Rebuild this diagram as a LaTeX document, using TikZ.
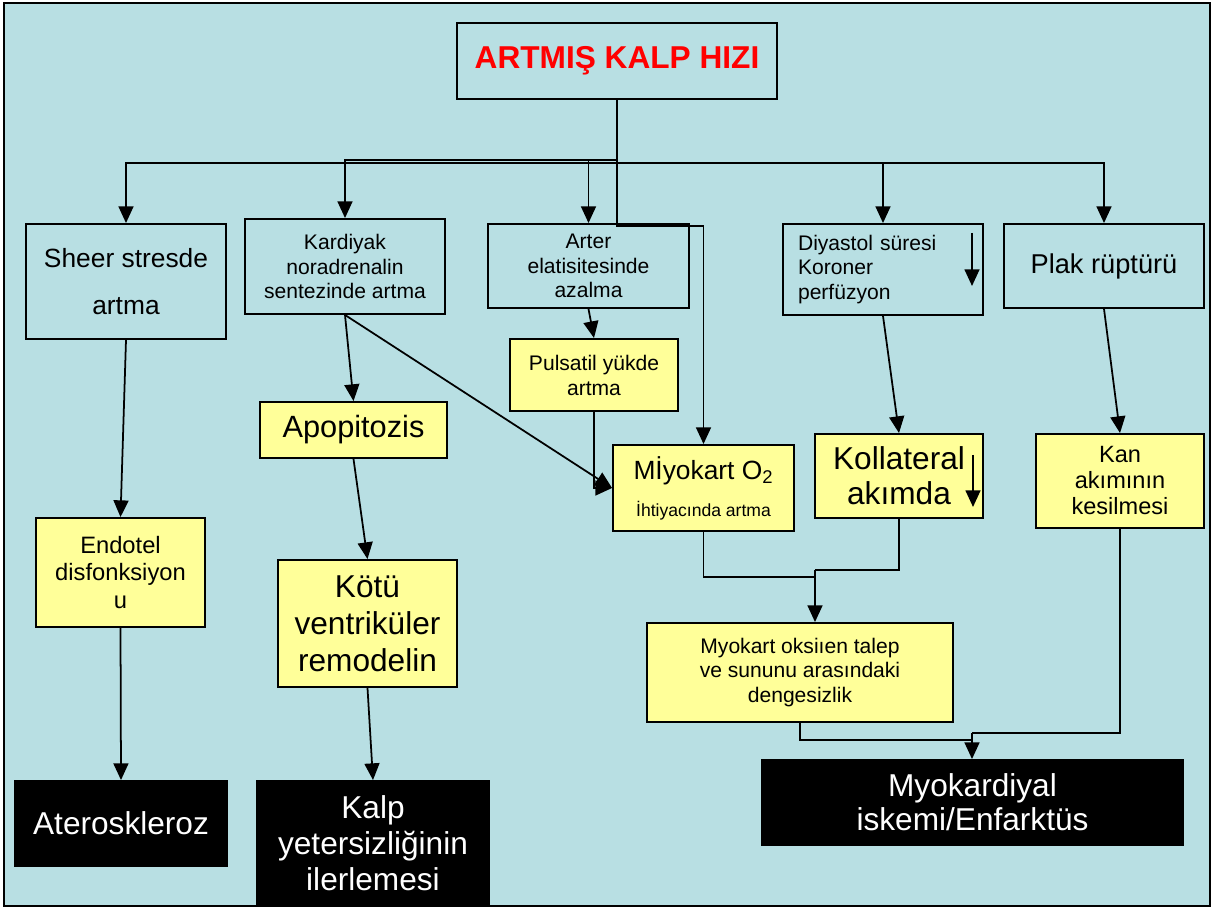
\documentclass[tikz,border=0pt]{standalone}
\usepackage{fontspec}
\setmainfont{Liberation Sans}
\usetikzlibrary{arrows.meta}
\definecolor{panelbg}{RGB}{184,223,227}
\definecolor{notefill}{RGB}{255,255,153}
\newcommand{\fs}[2]{\fontsize{#1}{#2}\selectfont}
\tikzset{
	box/.style={draw=black, line width=1.1pt, align=center, inner sep=2pt},
	bluebox/.style={box, fill=panelbg},
	yellowbox/.style={box, fill=notefill},
	blackbox/.style={box, fill=black, text=white},
	link/.style={line width=1pt},
	arr/.style={link, -{Triangle[length=9.5pt,width=8.5pt]}}
}

\begin{document}
\begin{tikzpicture}[x=0.02cm, y=-0.02cm]
	\useasboundingbox (0,0) rectangle (1213,908);
	\draw [line width=1.4pt, fill=panelbg] (4,3) rectangle (1210,906);
	% top row
	\node [bluebox, minimum width=6.4cm, minimum height=1.52cm, text=red, font=\fs{18}{21}\bfseries] (title) at (617,61) {ARTMIŞ KALP HIZI};
	\node [bluebox, minimum width=4cm, minimum height=2.3cm, font=\fs{15}{26.7}] (sheer) at (126,281.5) {Sheer stresde\\artma};
	\node [bluebox, minimum width=4cm, minimum height=1.9cm, font=\fs{12}{13.7}] (kardiyak) at (345,266.5) {Kardiyak\\noradrenalin\\sentezinde artma};
	\node [bluebox, minimum width=4.02cm, minimum height=1.68cm, font=\fs{12}{14}] (arter) at (588.5,266) {Arter\\elatisitesinde\\azalma};
	\node [bluebox, minimum width=4cm, minimum height=1.82cm, text width=3.4cm, inner xsep=0.3cm, align=left, font=\fs{12}{14}] (diyastol) at (883,269.5) {Diyastol süresi\\Koroner\\perfüzyon};
	\node [bluebox, minimum width=4cm, minimum height=1.68cm, font=\fs{15.5}{18}] (plak) at (1104,266) {Plak rüptürü};
	% middle row
	\node [yellowbox, minimum width=3.36cm, minimum height=1.44cm, font=\fs{12}{14.2}] (pulsatil) at (594,375) {Pulsatil yükde\\artma};
	\node [yellowbox, minimum width=3.74cm, minimum height=1.12cm, font=\fs{17.5}{20}] (apopitoz) at (353.5,430) {Apopitozis};
	\node [yellowbox, minimum width=3.62cm, minimum height=1.72cm] (miyokart) at (703.5,488) {\fs{15}{18}Mİyokart O\textsubscript{2}\\[9pt]\fs{10}{12}İhtiyacında artma};
	\node [yellowbox, minimum width=3.36cm, minimum height=1.68cm, font=\fs{18}{20}] (kollateral) at (899,476) {Kollateral\\akımda};
	\node [yellowbox, minimum width=3.36cm, minimum height=1.88cm, font=\fs{13.4}{14.8}] (kan) at (1120,481) {Kan\\akımının\\kesilmesi};
	\node [yellowbox, minimum width=3.38cm, minimum height=2.18cm, font=\fs{13.5}{15.4}] (endotel) at (120.5,572.5) {Endotel\\disfonksiyon\\u};
	\node [yellowbox, minimum width=3.58cm, minimum height=2.54cm, font=\fs{18}{21}] (kotu) at (367.5,623.5) {Kötü\\ventriküler\\remodelin};
	\node [yellowbox, minimum width=6.12cm, minimum height=1.98cm, font=\fs{12}{13.7}] (dengesiz) at (800,672.5) {Myokart oksiıen talep\\ve sununu arasındaki\\dengesizlik};
	% results
	\node [blackbox, minimum width=4.24cm, minimum height=1.7cm, font=\fs{18}{21}] (atero) at (121,823.5) {Ateroskleroz};
	\node [blackbox, minimum width=4.64cm, minimum height=2.5cm, font=\fs{18}{20.5}] (kalp) at (373,843.5) {Kalp\\yetersizliğinin\\ilerlemesi};
	\node [blackbox, minimum width=8.42cm, minimum height=1.7cm, font=\fs{18}{19.3}] (infarkt) at (972.5,802.5) {Myokardiyal\\iskemi/Enfarktüs};
	% down arrows inside boxes
	\draw [arr] (972,233) -- (972,286);
	\draw [arr] (973,455) -- (973,507);
	% branches from the title
	\coordinate (hubLow) at (617,163);
	\coordinate (hubHigh) at (617,160);
	\draw [link] (title.south) -- (hubLow);
	\draw [arr] (hubLow) -| (sheer.north);
	\draw [arr] (hubLow) -| (diyastol.north);
	\draw [arr] (hubLow) -| (plak.north);
	\draw [arr] (hubHigh) -| (kardiyak.north);
	\draw [arr] (hubHigh) -| (arter.north);
	\draw [arr] (title.south) -- ++(0,126) -| (miyokart.north);
	% chains
	\draw [arr] (sheer.south) -- (endotel.north);
	\draw [arr] (endotel.south) -- (atero.north);
	\draw [arr] (kardiyak.south) -- (apopitoz.north);
	\draw [arr] (kardiyak.south) -- (miyokart.west);
	\draw [arr] (apopitoz.south) -- (kotu.north);
	\draw [arr] (kotu.south) -- (kalp.north);
	\draw [arr] (arter.south) -- (pulsatil.north);
	\draw [arr] (pulsatil.south) |- (miyokart.west);
	\draw [arr] (diyastol.south) -- (kollateral.north);
	\draw [arr] (plak.south) -- (kan.north);
	% merging into imbalance and infarct
	\coordinate (joinA) at (815,570);
	\draw [link] (miyokart.south) |- (815,577) -- (joinA);
	\draw [link] (kollateral.south) |- (joinA);
	\draw [arr] (joinA) -- (joinA |- dengesiz.north);
	\coordinate (joinB) at (972,733);
	\draw [link] (dengesiz.south) |- (972,740) -- (joinB);
	\draw [link] (kan.south) |- (joinB);
	\draw [arr] (joinB) -- (joinB |- infarkt.north);
\end{tikzpicture}
\end{document}
